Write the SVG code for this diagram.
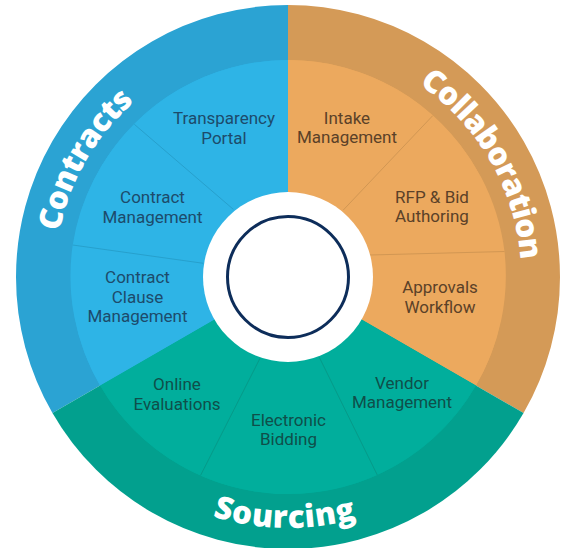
<svg xmlns="http://www.w3.org/2000/svg" width="567" height="548" viewBox="0 0 567 548">
  <style>
    .lbl { font-family: Roboto, "Liberation Sans", sans-serif; font-size: 17px; text-anchor: middle; }
    .lb { fill: #1d4b6b; }
    .lo { fill: #5b4128; }
    .lt { fill: #0f4f4a; }
    .head { font-family: "Open Sans", "DejaVu Sans", sans-serif; font-weight: 800; font-size: 31.5px; fill: #ffffff; text-anchor: middle; }
    .bo { fill: #2ba3d3; } .bi { fill: #2eb4e6; }
    .oo { fill: #d49a57; } .oi { fill: #eca95e; }
    .to { fill: #02a08e; } .ti { fill: #01ae9c; }
    .div { stroke-width: 1; fill: none; }
  </style>
  <defs>
    <path id="arcContracts" d="M86.22,393.5 A233,233 0 0 1 288,44"/>
    <path id="arcCollab" d="M288,44 A233,233 0 0 1 489.78,393.5"/>
    <path id="arcSourcing" d="M70.63,402.5 A251,251 0 0 0 505.37,402.5"/>
  </defs>
  <rect width="567" height="548" fill="#ffffff"/>

  <g id="contracts">
    <path class="bo" d="M288,277 L52.44,413 A272,272 0 0 1 288,5 Z"/>
    <path class="bi" d="M288,277 L100.07,385.5 A217,217 0 0 1 288,60 Z"/>
    <text class="head"><textPath href="#arcContracts" startOffset="50%" textLength="153" lengthAdjust="spacing">Contracts</textPath></text>
  </g>
  <g id="collaboration">
    <path class="oo" d="M288,277 L288,5 A272,272 0 0 1 523.56,413 Z"/>
    <path class="oi" d="M288,277 L288,60 A217,217 0 0 1 475.93,385.5 Z"/>
    <text class="head"><textPath href="#arcCollab" startOffset="50%" textLength="210" lengthAdjust="spacing">Collaboration</textPath></text>
  </g>
  <g id="sourcing">
    <path class="to" d="M288,277 L523.56,413 A272,272 0 0 1 52.44,413 Z"/>
    <path class="ti" d="M288,277 L475.93,385.5 A217,217 0 0 1 100.07,385.5 Z"/>
    <text class="head"><textPath href="#arcSourcing" startOffset="49.3%" textLength="146" lengthAdjust="spacing">Sourcing</textPath></text>
  </g>

  <g id="intake-management">
    <path class="oi" d="M288,191 L288,60 A217,217 0 0 1 432.7,115.7 L343.3,210 A86,86 0 0 0 288,191 Z"/>
    <text class="lbl lo"><tspan x="347" y="123.5">Intake</tspan><tspan x="347" y="143">Management</tspan></text>
  </g>
  <g id="rfp-bid-authoring">
    <path class="oi" d="M343.3,210 L432.7,115.7 A217,217 0 0 1 504.5,251.5 L370,255 A86,86 0 0 0 343.3,210 Z"/>
    <text class="lbl lo"><tspan x="432" y="202.5">RFP &amp; Bid</tspan><tspan x="432" y="222">Authoring</tspan></text>
  </g>
  <g id="approvals-workflow">
    <path class="oi" d="M370,255 L504.5,251.5 A217,217 0 0 1 475.93,385.5 L361.6,319.5 A86,86 0 0 0 370,255 Z"/>
    <text class="lbl lo"><tspan x="440" y="293">Approvals</tspan><tspan x="440" y="312.5">Workflow</tspan></text>
  </g>
  <g id="vendor-management">
    <path class="ti" d="M361.6,319.5 L475.93,385.5 A217,217 0 0 1 377.3,475 L319.3,357.3 A86,86 0 0 0 361.6,319.5 Z"/>
    <text class="lbl lt"><tspan x="402" y="388.5">Vendor</tspan><tspan x="402" y="408">Management</tspan></text>
  </g>
  <g id="electronic-bidding">
    <path class="ti" d="M319.3,357.3 L377.3,475 A217,217 0 0 1 200.5,475.5 L260,358.3 A86,86 0 0 0 319.3,357.3 Z"/>
    <text class="lbl lt"><tspan x="288.5" y="426">Electronic</tspan><tspan x="288.5" y="445">Bidding</tspan></text>
  </g>
  <g id="online-evaluations">
    <path class="ti" d="M260,358.3 L200.5,475.5 A217,217 0 0 1 100.07,385.5 L214.4,319.5 A86,86 0 0 0 260,358.3 Z"/>
    <text class="lbl lt"><tspan x="177" y="390">Online</tspan><tspan x="177" y="409.5">Evaluations</tspan></text>
  </g>
  <g id="contract-clause-management">
    <path class="bi" d="M214.4,319.5 L100.07,385.5 A217,217 0 0 1 72.7,245 L203.3,263.3 A86,86 0 0 0 214.4,319.5 Z"/>
    <text class="lbl lb"><tspan x="137.5" y="283">Contract</tspan><tspan x="137.5" y="302.5">Clause</tspan><tspan x="137.5" y="322">Management</tspan></text>
  </g>
  <g id="contract-management">
    <path class="bi" d="M203.3,263.3 L72.7,245 A217,217 0 0 1 134.3,124.3 L233.3,209.3 A86,86 0 0 0 203.3,263.3 Z"/>
    <text class="lbl lb"><tspan x="152.5" y="203">Contract</tspan><tspan x="152.5" y="222.5">Management</tspan></text>
  </g>
  <g id="transparency-portal">
    <path class="bi" d="M233.3,209.3 L134.3,124.3 A217,217 0 0 1 288,60 L288,191 A86,86 0 0 0 233.3,209.3 Z"/>
    <text class="lbl lb"><tspan x="224" y="124">Transparency</tspan><tspan x="224" y="143.5">Portal</tspan></text>
  </g>

  <g id="connectors">
    <line class="div" stroke="#27a0cd" x1="134.3" y1="124.3" x2="233.3" y2="209.3"/>
    <line class="div" stroke="#27a0cd" x1="72.7" y1="245" x2="203.3" y2="263.3"/>
    <line class="div" stroke="#d29753" x1="432.7" y1="115.7" x2="343.3" y2="210"/>
    <line class="div" stroke="#d29753" x1="504.5" y1="251.5" x2="370" y2="255"/>
    <line class="div" stroke="#069a89" x1="319.3" y1="357.3" x2="377.3" y2="475"/>
    <line class="div" stroke="#069a89" x1="260" y1="358.3" x2="200.5" y2="475.5"/>
  </g>

  <g id="hub">
    <circle cx="288" cy="277" r="85" fill="#ffffff"/>
    <circle cx="288" cy="277" r="60.5" fill="#ffffff" stroke="#0d2d5a" stroke-width="3"/>
  </g>
</svg>
